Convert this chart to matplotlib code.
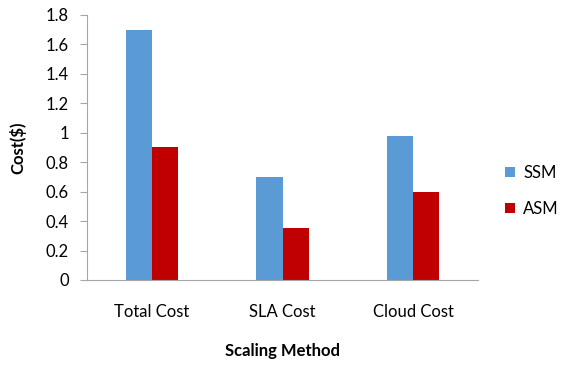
import matplotlib.pyplot as plt
import numpy as np

categories = ["Total Cost", "SLA Cost", "Cloud Cost"]
ssm = [1.7, 0.7, 0.98]
asm = [0.9, 0.35, 0.6]

plt.rcParams['font.family'] = ['Lato', 'DejaVu Sans']

fig = plt.figure(figsize=(5.64, 3.65), dpi=100)
ax = fig.add_axes([0.154, 0.233, 0.694, 0.726])

x = np.arange(len(categories))
w = 0.2
ax.bar(x - w / 2, ssm, w, color="#5B9BD5", label="SSM")
ax.bar(x + w / 2, asm, w, color="#C00000", label="ASM")

ax.set_xlim(-0.5, 2.5)
ax.set_ylim(0, 1.8)
ax.set_yticks(np.arange(0, 1.81, 0.2))
ax.set_yticklabels(["0"] + [f"{v:g}" for v in np.arange(0.2, 1.81, 0.2).round(1)])
ax.set_xticks(x)
ax.set_xticklabels(categories)

for s in ["top", "right"]:
    ax.spines[s].set_visible(False)
for s in ["left", "bottom"]:
    ax.spines[s].set_color("#A6A6A6")
ax.tick_params(axis="y", length=5, color="#A6A6A6", labelsize=12, pad=8)
ax.tick_params(axis="x", length=0, labelsize=12, pad=17)

ax.set_ylabel("Cost($)", fontsize=12, fontweight="bold", labelpad=14)
ax.set_xlabel("Scaling Method", fontsize=12, fontweight="bold", labelpad=17)

fig.legend(*ax.get_legend_handles_labels(), loc="center left",
           bbox_to_anchor=(505 / 564, 1 - 191 / 365), frameon=False,
           fontsize=12, handlelength=0.6, handleheight=0.6, handletextpad=0.5,
           labelspacing=1.2, borderaxespad=0, borderpad=0)

fig.savefig("out.png", dpi=100)
